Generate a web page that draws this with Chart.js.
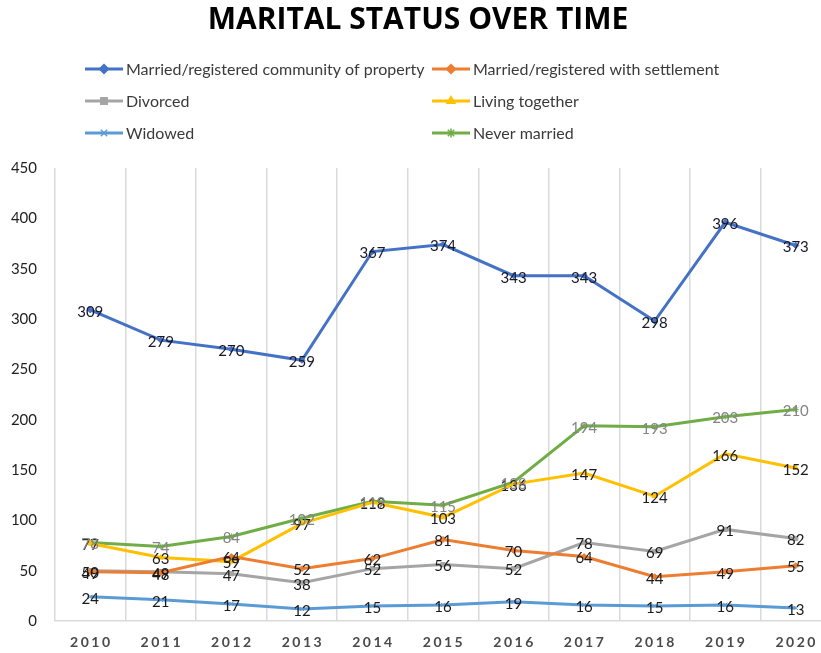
<!DOCTYPE html>
<html>
<head>
<meta charset="utf-8">
<script src="https://cdn.jsdelivr.net/npm/chart.js@4.4.1/dist/chart.umd.min.js"></script>
<style>
  html, body { margin: 0; padding: 0; background: #fff; overflow: hidden; }
  #wrap { position: relative; width: 836px; height: 653px; }
</style>
</head>
<body>
<div id="wrap"><canvas id="maritalChart"></canvas></div>
<script>
// years on the x axis
const years = ['2010', '2011', '2012', '2013', '2014', '2015', '2016', '2017', '2018', '2019', '2020'];

// series values
const communityOfProperty = [309, 279, 270, 259, 367, 374, 343, 343, 298, 396, 373];
const withSettlement = [49, 48, 64, 52, 62, 81, 70, 64, 44, 49, 55];
const divorced = [50, 49, 47, 38, 52, 56, 52, 78, 69, 91, 82];
const livingTogether = [77, 63, 59, 97, 118, 103, 136, 147, 124, 166, 152];
const widowed = [24, 21, 17, 12, 15, 16, 19, 16, 15, 16, 13];
const neverMarried = [78, 74, 84, 102, 119, 115, 138, 194, 193, 203, 210];

const yTicks = [0, 50, 100, 150, 200, 250, 300, 350, 400, 450];

const FONT = 'Lato, "Open Sans", sans-serif';

function series(label, data, color, pointStyle, labelColor) {
    return {
        label: label,
        data: data,
        borderColor: color,
        backgroundColor: color,
        borderWidth: 3,
        pointStyle: pointStyle,
        pointRadius: 3,
        pointBorderWidth: 1,
        pointBorderColor: color,
        pointBackgroundColor: color,
        tension: 0,
        labelColor: labelColor
    };
}

const datasets = [
    series('Married/registered community of property', communityOfProperty, '#4472C4', 'rectRot', '#18182a'),
    series('Married/registered with settlement', withSettlement, '#ED7D31', 'rectRot', '#1b1b1b'),
    series('Divorced', divorced, '#A5A5A5', 'rect', '#1b1b1b'),
    series('Living together', livingTogether, '#FFC000', 'triangle', '#1b1b1b'),
    series('Widowed', widowed, '#5B9BD5', 'crossRot', '#1b1b1b'),
    series('Never married', neverMarried, '#70AD47', 'star', '#858585')
];

// legend in two columns, three rows
const legendPlugin = {
    id: 'gridLegend',
    afterDraw(chart) {
        const ctx = chart.ctx;
        const cols = [85, 432];
        const rows = [69, 101, 133];
        ctx.save();
        chart.data.datasets.forEach((ds, i) => {
            const x = cols[i % 2];
            const y = rows[Math.floor(i / 2)];
            ctx.strokeStyle = ds.borderColor;
            ctx.fillStyle = ds.backgroundColor;
            ctx.lineWidth = 3;
            ctx.beginPath();
            ctx.moveTo(x, y);
            ctx.lineTo(x + 38, y);
            ctx.stroke();
            ctx.lineWidth = 1.5;
            Chart.helpers.drawPoint(ctx, {
                pointStyle: ds.pointStyle, radius: 4.5, borderWidth: 1.5
            }, x + 19, y);
            ctx.fillStyle = '#3a3a3a';
            ctx.font = '16px ' + FONT;
            ctx.textBaseline = 'middle';
            ctx.textAlign = 'left';
            ctx.fillText(ds.label, x + 41, y + 1);
        });
        ctx.restore();
    }
};

// value labels sitting on each point, plus spaced-out year labels
const valueLabels = {
    id: 'valueLabels',
    afterDatasetsDraw(chart) {
        const ctx = chart.ctx;
        ctx.save();
        ctx.font = '15px ' + FONT;
        ctx.textAlign = 'center';
        ctx.textBaseline = 'middle';
        chart.data.datasets.forEach((ds, i) => {
            const meta = chart.getDatasetMeta(i);
            ctx.fillStyle = ds.labelColor;
            meta.data.forEach((pt, j) => {
                ctx.fillText(String(ds.data[j]), pt.x, pt.y + 2);
            });
        });
        const xs = chart.scales.x;
        ctx.fillStyle = '#4a4a4a';
        ctx.font = 'bold 14px ' + FONT;
        ctx.letterSpacing = '2.5px';
        years.forEach((yr, j) => {
            ctx.fillText(yr, xs.getPixelForValue(j) + 1, 642);
        });
        ctx.restore();
    }
};

const ctx = document.getElementById('maritalChart').getContext('2d');
const maritalChart = new Chart(ctx, {
    type: 'line',
    data: { labels: years, datasets: datasets },
    options: {
        responsive: true,
        maintainAspectRatio: false,
        animation: false,
        layout: { padding: { left: 0, right: 0, top: 0, bottom: 0 } },
        scales: {
            x: {
                offset: true,
                grid: { display: true, offset: true, color: '#dadada', lineWidth: 1.5, drawTicks: false },
                border: { display: true, color: '#dadada', width: 1.5 },
                ticks: { color: 'rgba(0,0,0,0)', font: { size: 12, family: FONT } },
                afterFit(scale) { scale.height = 32; }
            },
            y: {
                min: 0,
                max: 450,
                afterBuildTicks(scale) { scale.ticks = yTicks.map(v => ({ value: v })); },
                grid: { display: false },
                border: { display: false },
                ticks: { color: '#1f1f1f', font: { size: 15, family: FONT }, padding: 10 },
                afterFit(scale) { scale.width = 55; }
            }
        },
        plugins: {
            legend: { display: false },
            tooltip: { enabled: false },
            title: {
                display: true,
                text: 'MARITAL STATUS OVER TIME',
                color: '#000',
                font: { size: 30, weight: 'bold', family: '"Open Sans", sans-serif' },
                padding: { top: 2, bottom: 130 }
            }
        }
    },
    plugins: [legendPlugin, valueLabels]
});
</script>
</body>
</html>
